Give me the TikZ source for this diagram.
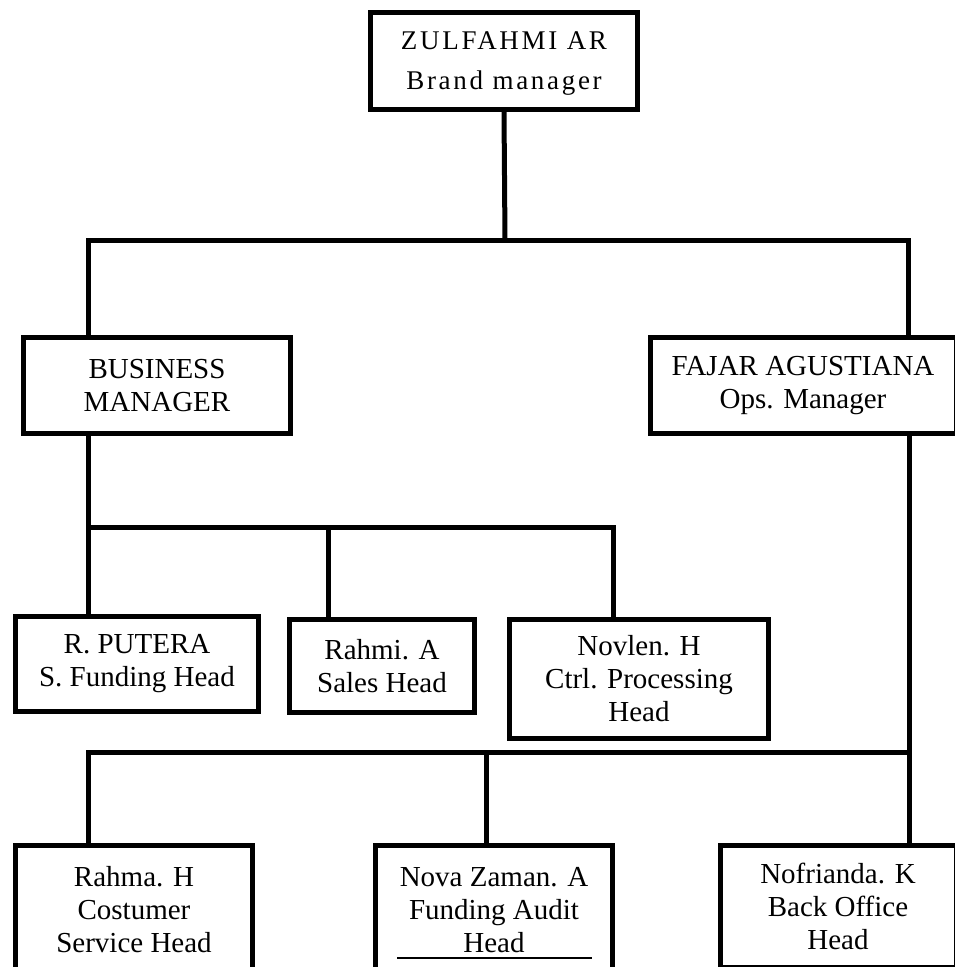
\documentclass[tikz,border=0pt]{standalone}
\usepackage{fontspec}
\setmainfont{Liberation Serif}
\usetikzlibrary{positioning}

\tikzset{
  post/.style={draw, line width=5pt, align=center, inner sep=0pt,
    font=\fontsize{29}{33}\selectfont},
  boss/.style={post, text depth=0pt, font=\fontsize{27}{40}\selectfont\addfontfeature{LetterSpace=10}},
  link/.style={line width=5pt, line cap=rect},
}

\begin{document}
\begin{tikzpicture}[x=1pt,y=-1pt]
\useasboundingbox (0,0) rectangle (955,967);
\clip (0,0) rectangle (955,967);

% BOXES
% brand manager
\node[boss, minimum width=267pt, minimum height=97pt] (zulfahmi) at (504,61) {ZULFAHMI AR\\Brand manager};

% managers
\node[post, minimum width=267pt, minimum height=96pt] (busmgr) at (157,385.5) {BUSINESS\\MANAGER};
\node[post, minimum width=306pt, minimum height=96pt] (fajar) at (803,385.5) {FAJAR AGUSTIANA\\Ops. Manager};

% business heads
\node[post, minimum width=243pt, minimum height=95pt] (putera) at (137,664) {R. PUTERA\\S. Funding Head};
\node[post, minimum width=185pt, minimum height=93pt] (rahmi) at (382,666) {Rahmi. A\\Sales Head};
\node[post, minimum width=259pt, minimum height=119pt] (novlen) at (639,679) {Novlen. H\\Ctrl. Processing\\Head};

% ops heads
\node[post, minimum width=237pt, minimum height=129pt] (rahma) at (134,910) {Rahma. H\\Costumer\\Service Head};
\node[post, minimum width=237pt, minimum height=129pt] (nova) at (494,910) {Nova Zaman. A\\Funding Audit\\Head};
\node[post, minimum width=236pt, minimum height=122pt] (nofrianda) at (838,906) {Nofrianda. K\\Back Office\\Head};
\draw[line width=1.2pt] (397,958) -- (592,958);

% LINES
% top level
\coordinate (hub) at (505,240);
\coordinate (west) at (88,240);
\coordinate (east) at (908,240);
\draw[link] (zulfahmi.south) -- (hub);
\draw[link] (west) -- (east);
\draw[link] (west) -- (west |- busmgr.north);
\draw[link] (east) -- (east |- fajar.north);

% business branch
\coordinate (bw) at (88,527);
\coordinate (bm) at (328,527);
\coordinate (be) at (613,527);
\draw[link] (bw |- busmgr.south) -- (bw) -- (be) -- (be |- novlen.north);
\draw[link] (bw) -- (bw |- putera.north);
\draw[link] (bm) -- (bm |- rahmi.north);

% ops branch
\coordinate (ow) at (88,752);
\coordinate (om) at (486,752);
\coordinate (oe) at (909,752);
\draw[link] (oe |- fajar.south) -- (oe |- nofrianda.north);
\draw[link] (ow) -- (oe);
\draw[link] (ow) -- (ow |- rahma.north);
\draw[link] (om) -- (om |- nova.north);

\end{tikzpicture}
\end{document}
